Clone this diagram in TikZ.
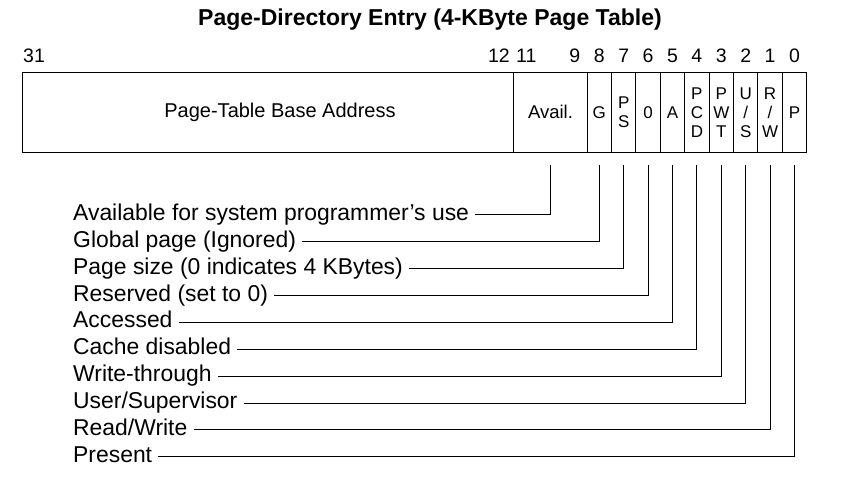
\documentclass[tikz,border=0pt]{standalone}
\usepackage{fontspec}
\setmainfont{Liberation Sans}
\usetikzlibrary{positioning}

\begin{document}
\begin{tikzpicture}[x=1pt,y=-1pt,
		field/.style={draw, line width=1pt, inner sep=0pt, outer sep=0pt, minimum height=79.5pt, minimum width=24.4pt, align=center, font=\fontsize{17}{19}\selectfont},
		bitnum/.style={inner sep=0pt, font=\fontsize{19.5}{19.5}\selectfont},
		desc/.style={anchor=west, inner xsep=6pt, inner ysep=0pt, text height=11.2pt, text depth=0pt, font=\fontsize{22.9}{27}\selectfont},
		wire/.style={line width=0.9pt}]
			\useasboundingbox (0,0) rectangle (843,483);
			\node[font=\bfseries\fontsize{23}{23}\selectfont] (title) at (430,20) {Page-Directory Entry (4-KByte Page Table)};

			% the entry
			\node[field, minimum width=491.4pt, label={[font=\fontsize{20}{20}\selectfont, xshift=11.8pt]center:Page-Table Base Address}] (fBase) at (268.2,112.25) {};
			\node[field, minimum width=73.2pt, font=\fontsize{18.5}{18.5}\selectfont, right=0pt of fBase] (fAvail) {Avail.};
			\node[field, right=0pt of fAvail] (fG) {G};
			\node[field, right=0pt of fG] (fPS) {P\\S};
			\node[field, right=0pt of fPS] (fZero) {0};
			\node[field, right=0pt of fZero] (fA) {A};
			\node[field, right=0pt of fA] (fPCD) {P\\C\\D};
			\node[field, right=0pt of fPCD] (fPWT) {P\\W\\T};
			\node[field, right=0pt of fPWT] (fUS) {U\\/\\S};
			\node[field, right=0pt of fUS] (fRW) {R\\/\\W};
			\node[field, right=0pt of fRW] (fP) {P};

			% bit numbers
			\node[bitnum, anchor=south west] (n31) at ([xshift=0.5pt,yshift=9.8pt]fBase.north west) {31};
			\node[bitnum, anchor=south east] (n12) at ([xshift=-4pt,yshift=9.8pt]fBase.north east) {12};
			\node[bitnum, anchor=south west] (n11) at ([xshift=2pt,yshift=9.8pt]fAvail.north west) {11};
			\node[bitnum, anchor=south] (n9) at ([xshift=-12.2pt,yshift=9.8pt]fAvail.north east) {9};
			\node[bitnum, above=9.8pt of fG] (n8) {8};
			\node[bitnum, above=9.8pt of fPS] (n7) {7};
			\node[bitnum, above=9.8pt of fZero] (n6) {6};
			\node[bitnum, above=9.8pt of fA] (n5) {5};
			\node[bitnum, above=9.8pt of fPCD] (n4) {4};
			\node[bitnum, above=9.8pt of fPWT] (n3) {3};
			\node[bitnum, above=9.8pt of fUS] (n2) {2};
			\node[bitnum, above=9.8pt of fRW] (n1) {1};
			\node[bitnum, above=9.8pt of fP] (n0) {0};

			% meanings
			\node[desc] (dAvail) at (67,214.7) {Available for system programmer's use};
			\node[desc] (dG) at (67,241.6) {Global page (Ignored)};
			\node[desc] (dPS) at (67,268.5) {Page size (0 indicates 4 KBytes)};
			\node[desc] (dZero) at (67,295.4) {Reserved (set to 0)};
			\node[desc] (dA) at (67,322.3) {Accessed};
			\node[desc] (dPCD) at (67,349.2) {Cache disabled};
			\node[desc] (dPWT) at (67,376.1) {Write-through};
			\node[desc] (dUS) at (67,403.0) {User/Supervisor};
			\node[desc] (dRW) at (67,429.9) {Read/Write};
			\node[desc] (dP) at (67,456.8) {Present};

			\foreach \f in {Avail,G,PS,Zero,A,PCD,PWT,US,RW,P}
				\draw[wire] (d\f.east) -| ([yshift=-13pt]f\f.south);
		\end{tikzpicture}
\end{document}
